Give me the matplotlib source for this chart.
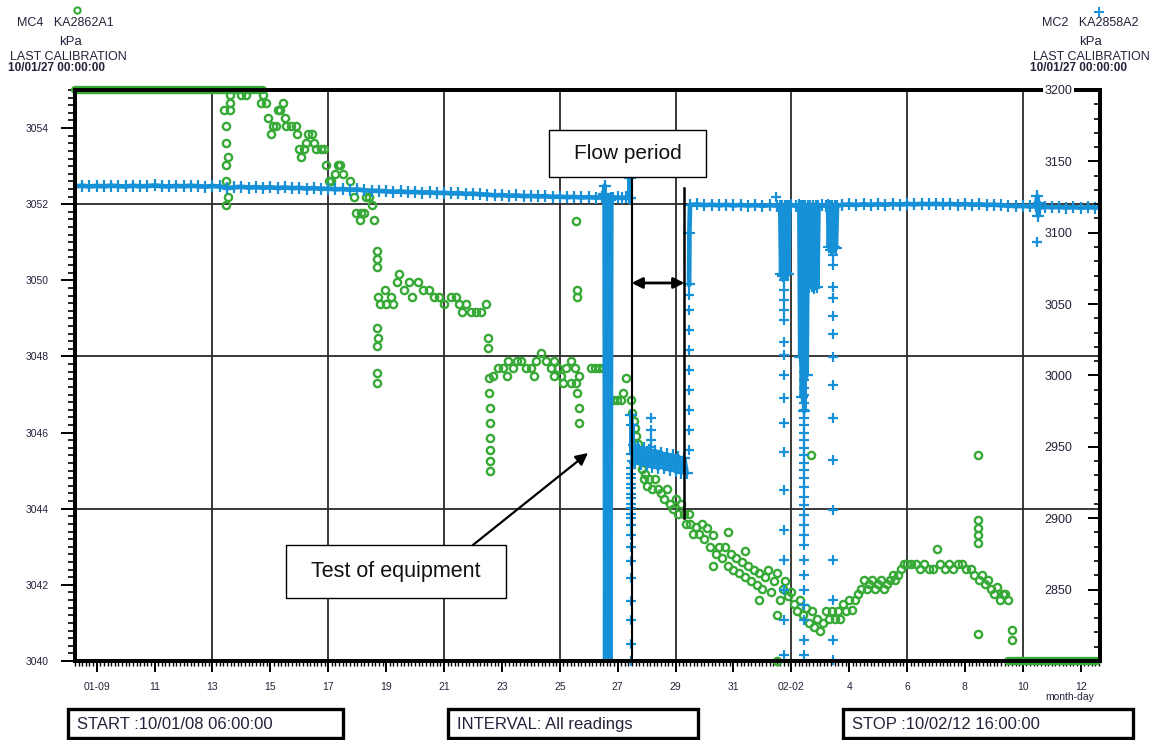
#!/usr/bin/env python3
# -*- coding: utf-8 -*-
"""
MC4 / MC2 pressure log, 10/01/08 - 10/02/12
Left axis: KA2862A1 (o), right axis: KA2858A2 (+)
"""

import numpy as np
import matplotlib
matplotlib.use('Agg')
import matplotlib.pyplot as plt
from matplotlib.patches import Rectangle
from matplotlib.lines import Line2D
from matplotlib.ticker import MultipleLocator, FixedLocator

plt.rcParams['font.family'] = ['Liberation Sans', 'DejaVu Sans']

GREEN = '#37a936'
BLUE = '#1690d6'
INK = '#23233a'

# time axis in days counted from 2010-01-00 (Jan 9 -> 9, Feb 2 -> 33)
T_START = 8.25     # 10/01/08 06:00:00
T_STOP = 43.667    # 10/02/12 16:00:00

day_ticks = [9, 11, 13, 15, 17, 19, 21, 23, 25, 27, 29, 31, 33, 35, 37, 39, 41, 43]
day_labels = ['01-09', '11', '13', '15', '17', '19', '21', '23', '25', '27', '29',
              '31', '02-02', '4', '6', '8', '10', '12']
grid_days = [13, 17, 21, 25, 29, 33, 37, 41]
grid_kpa = [3044, 3048, 3052]

left_ticks = [3040, 3042, 3044, 3046, 3048, 3050, 3052, 3054]
right_ticks = [2850, 2900, 2950, 3000, 3050, 3100, 3150, 3200]

# flow period start/stop (days)
flow_start = 27.48
flow_stop = 29.31

# MC4 KA2862A1 readings (day, kPa)
mc4 = [
    (13.41, 3054.47), (13.48, 3054.05), (13.48, 3053.62), (13.55, 3053.23), (13.48, 3053.02),
    (13.48, 3052.62), (13.52, 3052.19), (13.48, 3051.98), (13.59, 3054.87), (13.59, 3054.66),
    (13.62, 3054.47), (14.00, 3054.87), (14.17, 3054.87), (14.69, 3054.66), (14.76, 3054.87),
    (14.86, 3054.66), (14.93, 3054.26), (15.03, 3053.84), (15.10, 3054.05), (15.21, 3054.05),
    (15.28, 3054.47), (15.34, 3054.47), (15.45, 3054.66), (15.52, 3054.26), (15.55, 3054.05),
    (15.72, 3054.05), (15.90, 3054.05), (15.93, 3053.84), (16.00, 3053.44), (16.07, 3053.23),
    (16.17, 3053.44), (16.24, 3053.62), (16.31, 3053.84), (16.45, 3053.84), (16.52, 3053.62),
    (16.59, 3053.44), (16.76, 3053.44), (16.86, 3053.44), (16.93, 3053.02), (17.03, 3052.62),
    (17.10, 3052.62), (17.24, 3052.80), (17.34, 3053.02), (17.41, 3053.02), (17.52, 3052.80),
    (17.76, 3052.62), (17.90, 3052.19), (17.97, 3051.77), (18.10, 3051.59), (18.14, 3051.77),
    (18.24, 3051.77), (18.31, 3052.19), (18.41, 3052.19), (18.52, 3051.98), (18.59, 3051.59),
    (18.69, 3050.76), (18.69, 3050.56), (18.69, 3050.34), (18.69, 3048.76), (18.72, 3048.49),
    (18.69, 3048.28), (18.69, 3047.57), (18.69, 3047.30), (18.72, 3049.55), (18.80, 3049.37),
    (18.97, 3049.74), (19.00, 3049.37), (19.17, 3049.55), (19.25, 3049.37), (19.38, 3049.95),
    (19.45, 3050.16), (19.62, 3049.74), (19.79, 3049.95), (19.90, 3049.55), (20.10, 3049.95),
    (20.28, 3049.74), (20.48, 3049.74), (20.66, 3049.55), (20.83, 3049.55), (21.00, 3049.37),
    (21.24, 3049.55), (21.41, 3049.55), (21.52, 3049.37), (21.62, 3049.18), (21.76, 3049.37),
    (21.93, 3049.18), (22.10, 3049.18), (22.28, 3049.18), (22.45, 3049.37), (22.52, 3048.49),
    (22.52, 3048.23), (22.57, 3047.43), (22.57, 3047.04), (22.59, 3046.64), (22.59, 3046.24),
    (22.60, 3045.85), (22.60, 3045.53), (22.60, 3045.26), (22.60, 3045.00), (22.69, 3047.49),
    (22.86, 3047.70), (23.03, 3047.70), (23.17, 3047.49), (23.20, 3047.88), (23.38, 3047.70),
    (23.52, 3047.88), (23.66, 3047.88), (23.83, 3047.70), (24.00, 3047.70), (24.10, 3047.49),
    (24.17, 3047.88), (24.34, 3048.10), (24.52, 3047.88), (24.69, 3047.70), (24.79, 3047.49),
    (24.80, 3047.88), (24.93, 3047.70), (25.03, 3047.49), (25.10, 3047.30), (25.21, 3047.70),
    (25.38, 3047.88), (25.40, 3047.30), (25.52, 3047.70), (25.66, 3047.49), (25.55, 3051.55),
    (25.60, 3049.74), (25.60, 3049.55), (25.55, 3047.30), (25.60, 3047.04), (25.65, 3046.64),
    (25.65, 3046.24), (26.07, 3047.70), (26.21, 3047.70), (26.34, 3047.70), (26.48, 3047.70),
    (26.83, 3046.85), (26.97, 3046.85), (27.10, 3046.85), (27.20, 3047.04), (27.30, 3047.43),
    (27.45, 3046.85), (27.50, 3046.51), (27.55, 3046.30), (27.60, 3046.11), (27.65, 3045.90),
    (27.70, 3045.71), (27.75, 3045.45), (27.80, 3045.25), (27.85, 3045.05), (27.90, 3044.79),
    (27.95, 3044.90), (28.00, 3044.60), (28.10, 3044.79), (28.20, 3044.52), (28.30, 3044.79),
    (28.40, 3044.52), (28.50, 3044.40), (28.60, 3044.26), (28.70, 3044.52), (28.80, 3044.13),
    (28.90, 3044.00), (29.00, 3044.26), (29.10, 3043.86), (29.20, 3044.13), (29.30, 3043.86),
    (29.35, 3043.60), (29.45, 3043.86), (29.50, 3043.60), (29.60, 3043.33), (29.70, 3043.52),
    (29.80, 3043.33), (29.90, 3043.60), (30.00, 3043.20), (30.10, 3043.50), (30.20, 3043.00),
    (30.30, 3043.30), (30.30, 3042.50), (30.40, 3042.80), (30.50, 3043.00), (30.60, 3042.70),
    (30.70, 3043.00), (30.80, 3042.50), (30.80, 3043.40), (30.90, 3042.80), (31.00, 3042.40),
    (31.10, 3042.70), (31.20, 3042.30), (31.30, 3042.60), (31.40, 3042.20), (31.40, 3042.90),
    (31.50, 3042.50), (31.60, 3042.10), (31.70, 3042.40), (31.80, 3042.00), (31.90, 3042.30),
    (31.90, 3041.60), (32.00, 3041.90), (32.10, 3042.20), (32.20, 3042.40), (32.30, 3041.80),
    (32.40, 3042.10), (32.50, 3042.30), (32.50, 3041.20), (32.50, 3040.00), (32.60, 3041.60),
    (32.70, 3041.90), (32.80, 3042.10), (32.90, 3041.70), (33.00, 3041.80), (33.10, 3041.50),
    (33.20, 3041.30), (33.30, 3041.60), (33.40, 3041.20), (33.50, 3041.40), (33.60, 3041.00),
    (33.70, 3041.30), (33.80, 3040.90), (33.90, 3041.10), (34.00, 3040.80), (34.10, 3041.00),
    (34.20, 3041.30), (34.30, 3041.10), (34.40, 3041.30), (34.50, 3041.10), (34.60, 3041.30),
    (34.70, 3041.10), (34.80, 3041.50), (34.90, 3041.30), (33.69, 3045.40), (35.00, 3041.61),
    (35.10, 3041.35), (35.20, 3041.61), (35.30, 3041.75), (35.40, 3041.88), (35.50, 3042.14),
    (35.60, 3041.88), (35.70, 3042.01), (35.80, 3042.14), (35.90, 3041.88), (36.00, 3042.01),
    (36.10, 3042.14), (36.20, 3041.88), (36.30, 3042.01), (36.40, 3042.14), (36.50, 3042.27),
    (36.60, 3042.14), (36.70, 3042.27), (36.80, 3042.41), (36.90, 3042.54), (37.00, 3042.54),
    (37.15, 3042.54), (37.30, 3042.54), (37.45, 3042.41), (37.60, 3042.54), (37.75, 3042.41),
    (37.90, 3042.41), (38.05, 3042.94), (38.15, 3042.54), (38.30, 3042.41), (38.45, 3042.54),
    (38.60, 3042.41), (38.75, 3042.54), (38.90, 3042.54), (39.05, 3042.41), (39.20, 3042.41),
    (39.30, 3042.27), (39.45, 3043.70), (39.45, 3043.50), (39.45, 3043.30), (39.45, 3043.10),
    (39.45, 3045.40), (39.45, 3040.70), (39.50, 3042.14), (39.60, 3042.27), (39.70, 3042.01),
    (39.80, 3042.14), (39.90, 3041.88), (40.00, 3041.75), (40.10, 3041.95), (40.20, 3041.61),
    (40.30, 3041.75), (40.40, 3041.75), (40.50, 3041.61), (40.62, 3040.82), (40.62, 3040.55),
]
# spans where MC4 was off scale (pinned to the axis limits)
mc4_over = [(8.25, 14.75)]
mc4_under = [(40.50, 43.55)]

# MC2 KA2858A2 continuous trace (day, kPa); nan breaks the trace
mc2 = [
    (8.25, 3132.6), (8.50, 3132.9), (8.75, 3132.4), (9.00, 3132.8), (9.25, 3132.5),
    (9.50, 3133.0), (9.75, 3132.6), (10.00, 3132.4), (10.25, 3132.9), (10.50, 3132.5),
    (10.75, 3132.7), (11.00, 3133.1), (11.25, 3132.6), (11.50, 3132.4), (11.75, 3132.8),
    (12.00, 3132.5), (12.25, 3132.9), (12.50, 3132.6), (12.75, 3132.3), (13.00, 3132.7),
    (13.25, 3132.4), (13.50, 3131.2), (13.75, 3131.8), (14.00, 3132.2), (14.25, 3131.6),
    (14.50, 3132.0), (14.75, 3131.5), (15.00, 3131.9), (15.25, 3131.3), (15.50, 3131.7),
    (15.75, 3131.2), (16.00, 3131.5), (16.25, 3130.9), (16.50, 3131.3), (16.75, 3130.7),
    (17.00, 3130.9), (17.25, 3130.4), (17.50, 3130.6), (17.75, 3130.1), (18.00, 3130.3),
    (18.25, 3129.7), (18.50, 3129.4), (18.75, 3129.3), (19.00, 3129.0), (19.25, 3128.7),
    (19.50, 3128.9), (19.75, 3128.4), (20.00, 3128.6), (20.25, 3128.1), (20.50, 3128.3),
    (20.75, 3127.8), (21.00, 3128.0), (21.25, 3127.5), (21.50, 3127.7), (21.75, 3127.2),
    (22.00, 3127.4), (22.25, 3126.9), (22.50, 3126.7), (22.75, 3126.2), (23.00, 3126.4),
    (23.25, 3125.9), (23.50, 3126.1), (23.75, 3125.6), (24.00, 3125.8), (24.25, 3125.4),
    (24.50, 3125.6), (24.75, 3125.1), (25.00, 3125.3), (25.25, 3124.9), (25.50, 3125.1),
    (25.75, 3124.7), (26.00, 3124.9), (26.25, 3124.6), (26.45, 3124.8),
    # equipment test
    (26.52, 3127.0), (26.55, 3133.0), (26.57, 2800.0), (26.60, 3124.0), (26.63, 2800.0),
    (26.66, 3122.0), (26.69, 2800.0), (26.72, 3123.0), (26.75, 2800.0), (26.78, 3124.0),
    (26.85, 3124.5), (27.00, 3124.8), (27.15, 3124.3), (27.30, 3124.7), (27.40, 3124.5),
    (27.42, 3138.0), (27.43, 3124.0), (np.nan, np.nan),
    # flow period
    (27.47, 2972.0), (27.49, 2945.0), (27.51, 2965.0), (27.53, 2940.0), (27.56, 2951.0),
    (27.60, 2939.0), (27.70, 2950.0), (27.80, 2938.0), (27.90, 2949.0), (28.00, 2937.0),
    (28.10, 2948.0), (28.20, 2936.0), (28.30, 2947.0), (28.40, 2935.0), (28.50, 2946.0),
    (28.60, 2935.0), (28.70, 2945.0), (28.80, 2934.0), (28.90, 2944.0), (29.00, 2933.0),
    (29.10, 2943.0), (29.20, 2932.0), (29.30, 2942.0), (29.38, 2932.0), (np.nan, np.nan),
    # recovery
    (29.47, 3064.0), (29.48, 3100.0), (29.50, 3119.4), (29.75, 3119.8), (30.00, 3119.3),
    (30.25, 3119.7), (30.50, 3119.2), (30.75, 3119.6), (31.00, 3119.1), (31.25, 3119.5),
    (31.50, 3119.0), (31.75, 3119.4), (32.00, 3118.9), (32.25, 3119.3), (32.50, 3119.0),
    (32.62, 3119.0), (32.65, 3071.0), (32.69, 3119.0), (32.73, 3070.0), (32.77, 3119.0),
    (32.81, 3072.0), (32.85, 3119.0), (32.90, 3071.0), (32.93, 3119.0), (33.00, 3119.4),
    (33.15, 3119.0), (33.28, 3119.3), (33.31, 3013.0), (33.34, 3119.0), (33.37, 2985.0),
    (33.41, 3119.0), (33.45, 2975.0), (33.49, 3119.0), (33.53, 3000.0), (33.57, 3119.0),
    (33.61, 3062.0), (33.65, 3119.0), (33.70, 3063.0), (33.75, 3119.0), (33.80, 3061.0),
    (33.85, 3119.0), (33.90, 3062.0), (33.94, 3119.0), (34.05, 3119.2), (34.20, 3118.9),
    (34.27, 3119.2), (34.30, 3090.0), (34.34, 3119.0), (34.38, 3088.0), (34.42, 3119.0),
    (34.46, 3090.0), (34.50, 3119.0), (34.54, 3089.0), (34.58, 3119.0), (34.75, 3119.5),
    (35.00, 3119.8), (35.25, 3119.4), (35.50, 3119.9), (35.75, 3119.5), (36.00, 3120.0),
    (36.25, 3119.6), (36.50, 3120.1), (36.75, 3119.7), (37.00, 3120.2), (37.25, 3119.8),
    (37.50, 3120.3), (37.75, 3119.9), (38.00, 3120.3), (38.25, 3119.8), (38.50, 3120.2),
    (38.75, 3119.7), (39.00, 3120.1), (39.25, 3119.6), (39.50, 3119.9), (39.75, 3119.4),
    (40.00, 3119.7), (40.25, 3119.2), (40.50, 3119.0), (40.75, 3118.6), (41.00, 3118.8),
    (41.25, 3118.4), (41.45, 3118.7), (41.50, 3125.5), (41.53, 3112.0), (41.56, 3121.0),
    (41.60, 3117.6), (41.75, 3118.2), (42.00, 3117.8), (42.25, 3118.1), (42.50, 3117.6),
    (42.75, 3118.0), (43.00, 3117.5), (43.25, 3117.9), (43.50, 3117.6), (43.65, 3117.8),
]

# MC2 isolated readings during the fast pressure changes (day, kPa)
mc2_single = [
    (27.45, 2935), (27.45, 2931), (27.45, 2928), (27.45, 2924), (27.45, 2921), (27.45, 2917),
    (27.45, 2914), (27.45, 2910), (27.45, 2907), (27.45, 2903), (27.45, 2900), (27.45, 2895),
    (27.45, 2888), (27.45, 2880), (27.45, 2870), (27.45, 2858), (27.45, 2842), (27.45, 2829),
    (27.45, 2812), (27.45, 2800),
    (28.14, 2970), (28.14, 2962), (28.14, 2955), (28.14, 2950),
    (29.45, 2947.8), (29.45, 2961.8), (29.45, 2975.8), (29.45, 2989.9), (29.45, 3003.9),
    (29.45, 3017.9), (29.45, 3031.9), (29.45, 3045.9), (29.45, 3056.4),
    (32.48, 3125.0),
    (32.76, 3066.9), (32.76, 3059.9), (32.76, 3052.9), (32.76, 3045.9), (32.76, 3038.9),
    (32.76, 3023.5), (32.76, 3014.4), (32.76, 3000.4), (32.76, 2984.2), (32.76, 2966.7),
    (32.76, 2946.4), (32.76, 2919.8), (32.76, 2891.8), (32.76, 2870.8), (32.76, 2849.8),
    (32.76, 2828.8), (32.76, 2804.3),
    (33.45, 3007.4), (33.45, 3002.5), (33.45, 2996.9), (33.45, 2991.3), (33.45, 2986.3),
    (33.45, 2980.7), (33.45, 2975.8), (33.45, 2970.2), (33.45, 2965.3), (33.45, 2959.7),
    (33.45, 2954.8), (33.45, 2949.2), (33.45, 2944.3), (33.45, 2938.7), (33.45, 2933.8),
    (33.45, 2928.2), (33.45, 2921.9), (33.45, 2914.9), (33.45, 2909.3), (33.45, 2902.3),
    (33.45, 2895.3), (33.45, 2888.3), (33.45, 2881.3), (33.45, 2870.8), (33.45, 2860.3),
    (33.45, 2849.8), (33.45, 2839.3), (33.45, 2828.8), (33.45, 2814.8), (33.45, 2804.3),
    (34.45, 3084.4), (34.45, 3077.4), (34.45, 3062.0), (34.45, 3054.0), (34.45, 3042.0),
    (34.45, 3029.0), (34.45, 3013.0), (34.45, 2993.0), (34.45, 2970.0), (34.45, 2941.0),
    (34.45, 2905.8), (34.45, 2870.8), (34.45, 2842.7), (34.45, 2814.8), (34.45, 2800.7),
    (41.48, 3093.5),
]


def fig_box(fig, x, y, w, h, text, lw=2.4):
    """Framed text box in figure pixel coordinates (origin top-left)."""
    W, H = 1154.0, 740.0
    fig.patches.append(Rectangle((x / W, 1 - (y + h) / H), w / W, h / H,
                                 transform=fig.transFigure, fill=False,
                                 edgecolor='black', linewidth=lw))
    fig.text((x + 9) / W, 1 - (y + h / 2 + 1) / H, text, fontsize=12, color=INK,
             ha='left', va='center')


def main():
    fig = plt.figure(figsize=(11.54, 7.40), dpi=100)
    ax1 = fig.add_axes([0.065, 0.1068, 0.8882, 0.7716])
    ax2 = ax1.twinx()

    ax1.set_xlim(T_START, T_STOP)
    ax1.set_ylim(3040, 3055)
    ax2.set_ylim(2800, 3200)

    # grid
    for d in grid_days:
        ax1.axvline(d, color='#2a2a2a', lw=1.3, zorder=1)
    for p in grid_kpa:
        ax1.axhline(p, color='#2a2a2a', lw=1.3, zorder=1)

    # MC4 (left axis)
    g = np.array(mc4)
    ax1.plot(g[:, 0], g[:, 1], 'o', mfc='none', mec=GREEN, ms=5.2, mew=1.7,
             clip_on=False, zorder=3)
    for a, b in mc4_over:
        ax1.hlines(3055, a, b, color=GREEN, lw=6, capstyle='round', clip_on=False, zorder=3)
    for a, b in mc4_under:
        ax1.hlines(3040, a, b, color=GREEN, lw=6, capstyle='round', clip_on=False, zorder=3)

    # MC2 (right axis)
    b = np.array(mc2)
    ax2.plot(b[:, 0], b[:, 1], '-', color=BLUE, lw=3.4, marker='+', ms=8, mew=1.6, zorder=2)
    s = np.array(mc2_single)
    ax2.plot(s[:, 0], s[:, 1], '+', color=BLUE, ms=7.5, mew=1.6, clip_on=False, zorder=2)

    # x axis
    ax1.xaxis.set_major_locator(FixedLocator(day_ticks))
    ax1.set_xticklabels(day_labels)
    ax1.xaxis.set_minor_locator(MultipleLocator(0.125))
    ax1.tick_params(axis='x', which='major', direction='out', length=8, width=1.4,
                    labelsize=7.5, labelcolor=INK, pad=7)
    ax1.tick_params(axis='x', which='minor', direction='out', length=3.5, width=1.0)

    # left axis
    ax1.yaxis.set_major_locator(FixedLocator(left_ticks))
    ax1.yaxis.set_minor_locator(MultipleLocator(0.2))
    ax1.tick_params(axis='y', which='major', direction='out', length=10, width=1.4,
                    labelsize=7.5, labelcolor=INK, pad=9)
    ax1.tick_params(axis='y', which='minor', direction='out', length=5, width=1.2)

    # right axis, labels sit inside the frame
    ax2.yaxis.set_major_locator(FixedLocator(right_ticks))
    ax2.yaxis.set_minor_locator(MultipleLocator(10))
    ax2.tick_params(axis='y', which='major', direction='in', length=8.5, width=1.4,
                    labelsize=9, labelcolor=INK, pad=-20)
    ax2.tick_params(axis='y', which='minor', direction='in', length=4, width=1.2)
    for lab in ax2.get_yticklabels():
        lab.set_horizontalalignment('right')
        lab.set_bbox(dict(facecolor='white', edgecolor='none', pad=1.0))
    ax2.yaxis.set_zorder(3)

    for ax in (ax1, ax2):
        for sp in ax.spines.values():
            sp.set_linewidth(2.8)
            sp.set_color('black')

    # flow period markers
    xt = ax2.get_xaxis_transform()
    ax2.plot([flow_start, flow_start], [0.0, 0.8476], color='black', lw=1.5, transform=xt,
             zorder=4)
    ax2.plot([flow_stop, flow_stop], [0.2504, 0.8284], color='black', lw=1.8, transform=xt,
             zorder=4)
    ax2.annotate('', xy=(flow_stop, 0.662), xytext=(flow_start, 0.662), xycoords=xt,
                 textcoords=xt,
                 arrowprops=dict(arrowstyle='<|-|>', color='black', lw=2,
                                 mutation_scale=16, shrinkA=0, shrinkB=0), zorder=5)
    ax2.add_patch(Rectangle((0.4624, 0.8476), 0.1532, 0.0823, transform=ax2.transAxes,
                            facecolor='white', edgecolor='black', lw=1.0, zorder=5))
    ax2.text(0.539, 0.8888, 'Flow period', transform=ax2.transAxes, fontsize=15,
             ha='center', va='center', color='#111111', zorder=6)

    # equipment test label
    ax2.add_patch(Rectangle((0.2059, 0.1103), 0.2146, 0.0928, transform=ax2.transAxes,
                            facecolor='white', edgecolor='black', lw=1.0, zorder=5))
    ax2.text(0.3132, 0.1567, 'Test of equipment', transform=ax2.transAxes, fontsize=15.5,
             ha='center', va='center', color='#111111', zorder=6)
    ax2.annotate('', xy=(0.5005, 0.3643), xytext=(0.3883, 0.2032),
                 xycoords=ax2.transAxes, textcoords=ax2.transAxes,
                 arrowprops=dict(arrowstyle='-|>', color='black', lw=1.6,
                                 mutation_scale=18, shrinkA=0, shrinkB=0), zorder=5)

    # header for each channel
    W, H = 1154.0, 740.0
    fig.add_artist(Line2D([77 / W], [1 - 10 / H], marker='o', mfc='none', mec=GREEN,
                          ms=4.5, mew=1.5, transform=fig.transFigure))
    fig.text(65 / W, 1 - 23 / H, 'MC4   KA2862A1', fontsize=9, color=INK, ha='center', va='center')
    fig.text(71 / W, 1 - 42 / H, 'kPa', fontsize=9.5, color=INK, ha='center', va='center')
    fig.text(68 / W, 1 - 57 / H, 'LAST CALIBRATION', fontsize=9, color=INK, ha='center', va='center')
    fig.text(56 / W, 1 - 68 / H, '10/01/27 00:00:00', fontsize=8.5, fontweight='bold',
             color=INK, ha='center', va='center')

    fig.add_artist(Line2D([1099 / W], [1 - 12 / H], marker='+', color=BLUE,
                          ms=7, mew=1.4, transform=fig.transFigure))
    fig.text(1090 / W, 1 - 23 / H, 'MC2   KA2858A2', fontsize=9, color=INK, ha='center', va='center')
    fig.text(1090 / W, 1 - 42 / H, 'kPa', fontsize=9.5, color=INK, ha='center', va='center')
    fig.text(1091 / W, 1 - 57 / H, 'LAST CALIBRATION', fontsize=9, color=INK, ha='center', va='center')
    fig.text(1079 / W, 1 - 68 / H, '10/01/27 00:00:00', fontsize=8.5, fontweight='bold',
             color=INK, ha='center', va='center')

    fig.text(1070 / W, 1 - 697 / H, 'month-day', fontsize=7.5, color=INK, ha='center', va='center')

    # run info
    fig_box(fig, 68, 709, 275, 29, 'START :10/01/08 06:00:00')
    fig_box(fig, 448, 709, 250, 29, 'INTERVAL: All readings')
    fig_box(fig, 843, 709, 290, 29, 'STOP :10/02/12 16:00:00')

    fig.savefig('out.png', dpi=100)
    plt.close(fig)


if __name__ == "__main__":
    main()
